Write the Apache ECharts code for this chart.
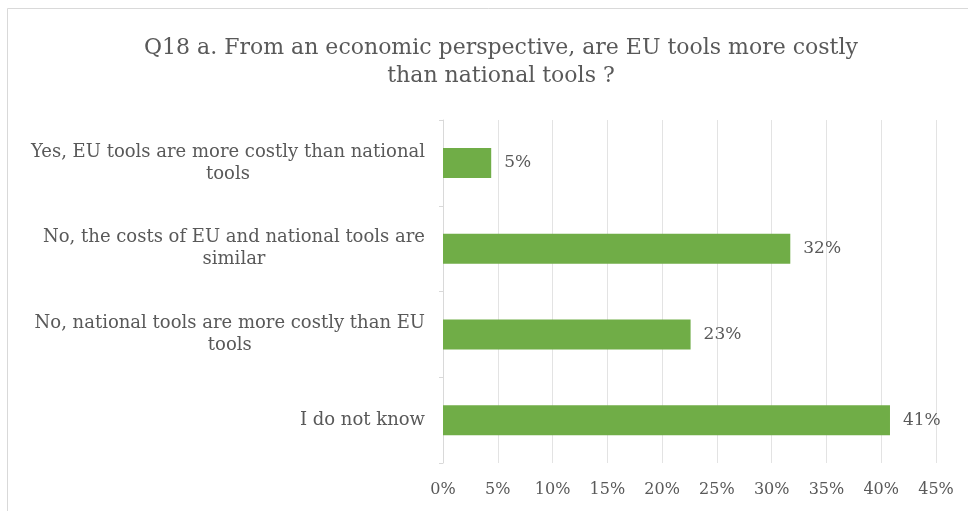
<!DOCTYPE html>
<html>
<head>
<meta charset="utf-8">
<script src="https://cdn.jsdelivr.net/npm/echarts@6/dist/echarts.min.js"></script>
<style>
  html, body { margin: 0; padding: 0; background: #fff; }
  #chart { width: 968px; height: 511px; }
</style>
</head>
<body>
<div id="chart"></div>
<script>
const titleText = 'Q18 a. From an economic perspective, are EU tools more costly\nthan national tools ?';
const categories = [
  'Yes, EU tools are more costly than national tools',
  'No, the costs of EU and national tools are similar',
  'No, national tools are more costly than EU tools',
  'I do not know'
];
const values = [4.4, 31.7, 22.6, 40.8];
const valueLabels = ['5%', '32%', '23%', '41%'];

// break long labels on words, excel style
function wrap(str, max) {
  const words = str.split(' ');
  const lines = [];
  let cur = '';
  words.forEach(w => {
    if (cur && (cur + ' ' + w).length > max) {
      lines.push(cur);
      cur = w;
    } else {
      cur = cur ? cur + ' ' + w : w;
    }
  });
  lines.push(cur);
  return lines;
}

const font = 'DejaVu Serif';
const grey = '#595959';

const myChart = echarts.init(document.getElementById('chart'));
const option = {
  backgroundColor: '#fff',
  animation: false,
  title: {
    text: titleText,
    left: 496,
    textAlign: 'center',
    top: 29,
    textStyle: {
      fontFamily: font,
      fontSize: 22,
      fontWeight: 'normal',
      color: grey,
      lineHeight: 28
    }
  },
  graphic: [{
    type: 'rect',
    shape: { x: 7.5, y: 8.5, width: 980, height: 520 },
    style: { fill: 'none', stroke: '#d9d9d9', lineWidth: 1 },
    silent: true
  }],
  grid: {
    left: 443,
    right: 32,
    top: 120,
    bottom: 48
  },
  xAxis: {
    type: 'value',
    min: 0,
    max: 45,
    interval: 5,
    axisLine: { show: false },
    axisTick: { show: false },
    splitLine: { lineStyle: { color: '#e3e3e3', width: 1 } },
    axisLabel: {
      formatter: '{value}%',
      margin: 19,
      fontFamily: font,
      fontSize: 16,
      color: grey
    }
  },
  yAxis: {
    type: 'category',
    inverse: true,
    data: categories,
    axisLine: { lineStyle: { color: '#d9d9d9' } },
    axisTick: { show: true, length: 4, lineStyle: { color: '#d9d9d9' } },
    axisLabel: {
      margin: 18,
      fontFamily: font,
      fontSize: 18,
      color: grey,
      lineHeight: 22,
      formatter: (val) => wrap(val, 43).map(l => '{c|' + l + '}').join('\n'),
      rich: {
        c: {
          align: 'center',
          fontFamily: font,
          fontSize: 18,
          color: grey,
          lineHeight: 22
        }
      }
    }
  },
  series: [{
    type: 'bar',
    data: values,
    barWidth: 30,
    itemStyle: { color: '#70ad47' },
    label: {
      show: true,
      position: 'right',
      distance: 13,
      fontFamily: font,
      fontSize: 17,
      color: grey,
      formatter: (p) => valueLabels[p.dataIndex]
    }
  }]
};
myChart.setOption(option);
</script>
</body>
</html>
